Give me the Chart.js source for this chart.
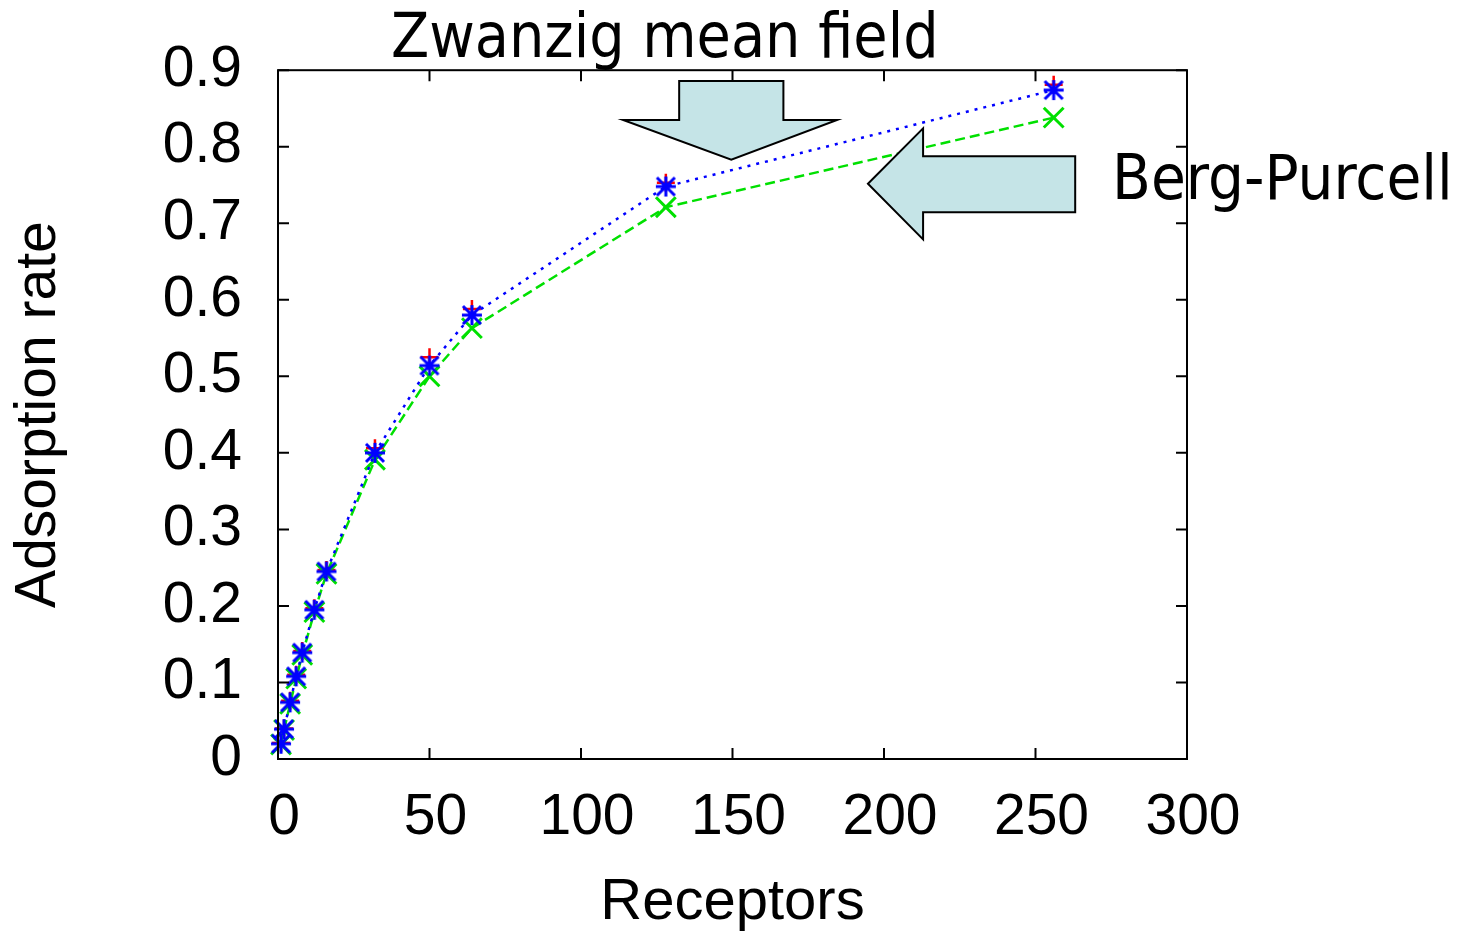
<!DOCTYPE html>
<html>
<head>
<meta charset="utf-8">
<script src="https://cdn.jsdelivr.net/npm/chart.js@4"></script>
<style>
  html, body { margin: 0; padding: 0; background: #fff; overflow: hidden; }
  canvas { display: block; }
</style>
</head>
<body>
<canvas id="chart" width="1462" height="935"></canvas>
<script>
// number of receptors on the sphere
const receptors = [1, 2, 4, 6, 8, 12, 16, 32, 50, 64, 128, 256];
// red "+" points
const simulation = [0.021, 0.040, 0.076, 0.110, 0.141, 0.197, 0.247, 0.406, 0.525, 0.588, 0.753, 0.881];
// blue "*" dotted
const zwanzig = [0.020, 0.039, 0.074, 0.108, 0.139, 0.195, 0.245, 0.400, 0.514, 0.580, 0.748, 0.874];
// green "x" dashed
const bergPurcell = [0.019, 0.038, 0.072, 0.105, 0.136, 0.192, 0.242, 0.391, 0.500, 0.563, 0.721, 0.838];

// annotation arrows, in data units (receptors, rate)
const zwanzigArrow = [[132.4, 0.886], [166.8, 0.886], [166.8, 0.835], [184.5, 0.835],
  [149.6, 0.783], [113.9, 0.835], [132.4, 0.835]];
const bergArrow = [[194.7, 0.7516], [212.9, 0.824], [212.9, 0.7876], [263.1, 0.7876],
  [263.1, 0.7145], [212.9, 0.7145], [212.9, 0.679]];

const toPoints = (ys) => receptors.map((x, i) => ({ x, y: ys[i] }));

// gnuplot style "*": a + and an x filling the same square
const gnuplotStar = (() => {
  const c = document.createElement("canvas");
  c.width = 26;
  c.height = 26;
  const g = c.getContext("2d");
  g.strokeStyle = "#0000ff";
  g.lineWidth = 3;
  g.beginPath();
  g.moveTo(3, 13); g.lineTo(23, 13);
  g.moveTo(13, 3); g.lineTo(13, 23);
  g.moveTo(4, 4); g.lineTo(22, 22);
  g.moveTo(22, 4); g.lineTo(4, 22);
  g.stroke();
  return c;
})();

const gnuplotFrame = {
  id: "gnuplotFrame",
  afterDatasetsDraw(chart) {
    const { ctx, chartArea: a, scales } = chart;
    const { x, y } = scales;
    ctx.save();

    [zwanzigArrow, bergArrow].forEach((arrow) => {
      ctx.beginPath();
      arrow.forEach(([vx, vy], i) => {
        const px = x.getPixelForValue(vx);
        const py = y.getPixelForValue(vy);
        if (i === 0) ctx.moveTo(px, py);
        else ctx.lineTo(px, py);
      });
      ctx.closePath();
      ctx.fillStyle = "#c5e4e7";
      ctx.fill();
      ctx.lineWidth = 2;
      ctx.strokeStyle = "#000";
      ctx.stroke();
    });

    // border + inward mirrored ticks
    ctx.strokeStyle = "#000";
    ctx.lineWidth = 2;
    ctx.strokeRect(a.left, a.top, a.right - a.left, a.bottom - a.top);
    ctx.beginPath();
    x.ticks.forEach((t) => {
      const px = x.getPixelForValue(t.value);
      ctx.moveTo(px, a.bottom);
      ctx.lineTo(px, a.bottom - 11);
      ctx.moveTo(px, a.top);
      ctx.lineTo(px, a.top + 11);
    });
    y.ticks.forEach((t) => {
      const py = y.getPixelForValue(t.value);
      ctx.moveTo(a.left, py);
      ctx.lineTo(a.left + 11, py);
      ctx.moveTo(a.right, py);
      ctx.lineTo(a.right - 11, py);
    });
    ctx.stroke();

    ctx.fillStyle = "#000";
    ctx.textBaseline = "alphabetic";
    ctx.textAlign = "left";
    ctx.font = '62px "DejaVu Sans Condensed", "DejaVu Sans", sans-serif';
    ctx.fillText("Zwanzig mean field", 391, 57);
    ctx.font = '63px "DejaVu Sans Condensed", "DejaVu Sans", sans-serif';
    ctx.fillText("Berg-Purcell", 1112, 199);
    ctx.restore();
  },
};

const tickFont = { family: '"Liberation Sans", Arial, sans-serif', size: 57 };

new Chart(document.getElementById("chart"), {
  type: "scatter",
  data: {
    datasets: [
      {
        label: "Zwanzig",
        data: toPoints(zwanzig),
        showLine: true,
        borderColor: "#0000ff",
        borderWidth: 2.5,
        borderDash: [3, 6],
        pointStyle: gnuplotStar,
        pointRadius: 11,
        clip: false,
        order: 0,
      },
      {
        label: "Berg-Purcell",
        data: toPoints(bergPurcell),
        showLine: true,
        borderColor: "#00e000",
        borderWidth: 2.5,
        borderDash: [10, 5],
        pointStyle: "crossRot",
        pointRadius: 14,
        pointBorderWidth: 3,
        pointBorderColor: "#00e000",
        clip: false,
        order: 1,
      },
      {
        label: "Simulation",
        data: toPoints(simulation),
        showLine: false,
        pointStyle: "cross",
        pointRadius: 9,
        pointBorderWidth: 2.5,
        pointBorderColor: "#ff0000",
        clip: false,
        order: 2,
      },
    ],
  },
  options: {
    responsive: false,
    animation: false,
    layout: { padding: { top: 69, right: 275, left: 0, bottom: 0 } },
    plugins: { legend: { display: false }, tooltip: { enabled: false } },
    scales: {
      x: {
        type: "linear",
        min: 0,
        max: 300,
        afterFit: (scale) => { scale.height = 176; },
        grid: { display: false, drawTicks: false },
        border: { display: false },
        ticks: { stepSize: 50, autoSkip: false, maxRotation: 0, padding: 25, labelOffset: 6, color: "#000", font: tickFont },
        title: {
          display: true,
          text: "Receptors",
          color: "#000",
          font: { family: tickFont.family, size: 58, lineHeight: 1 },
          padding: { top: 0, bottom: 3 },
        },
      },
      y: {
        min: 0,
        max: 0.9,
        afterFit: (scale) => { scale.width = 278; },
        grid: { display: false, drawTicks: false },
        border: { display: false },
        ticks: { stepSize: 0.1, padding: 36, color: "#000", font: tickFont },
        title: {
          display: true,
          text: "Adsorption rate",
          color: "#000",
          font: { family: tickFont.family, size: 57, lineHeight: 1 },
          padding: { top: 11, bottom: 0 },
        },
      },
    },
  },
  plugins: [gnuplotFrame],
});
</script>
</body>
</html>
